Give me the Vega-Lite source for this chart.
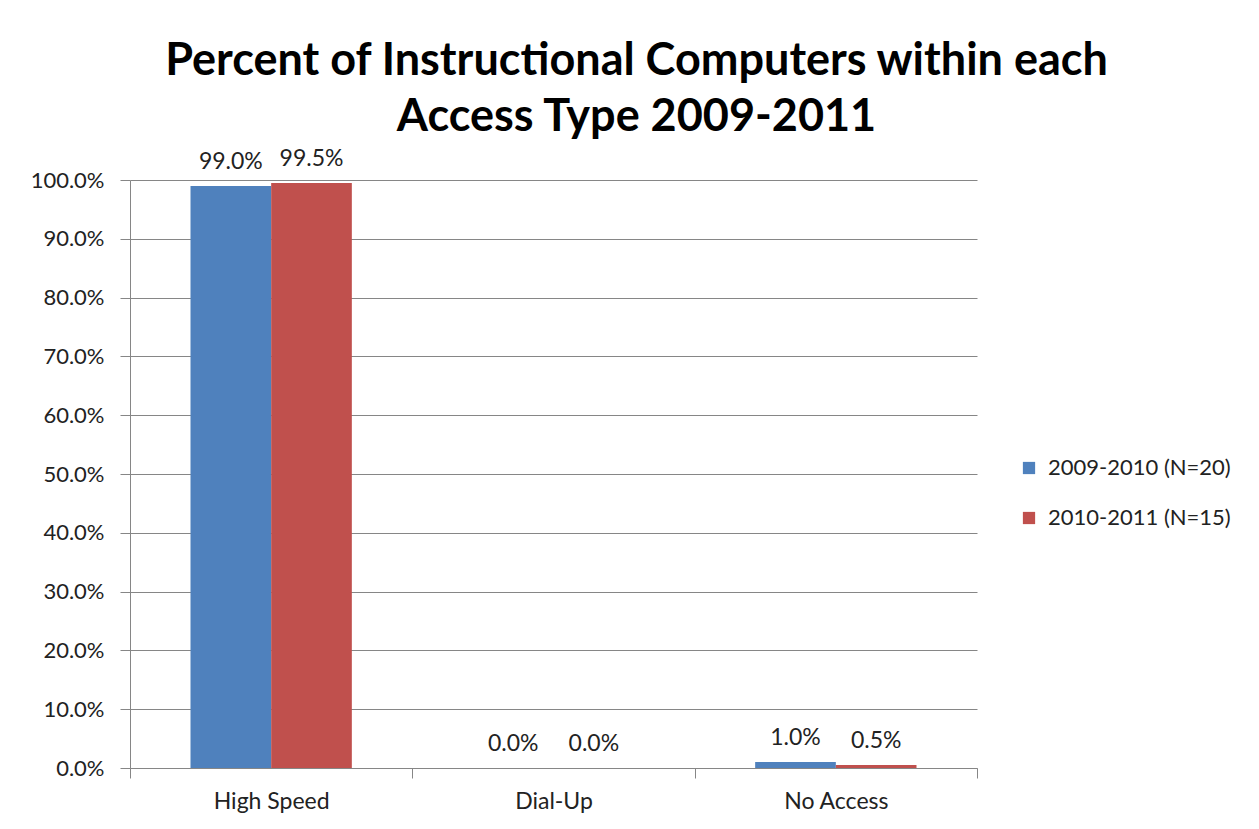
{
  "$schema": "https://vega.github.io/schema/vega-lite/v6.json",
  "autosize": "none",
  "width": 847,
  "height": 588,
  "padding": {"left": 130, "top": 180, "right": 282, "bottom": 61},
  "background": "white",
  "title": {
    "text": ["Percent of Instructional Computers within each", "Access Type 2009-2011"],
    "font": "Lato",
    "fontSize": 45,
    "fontWeight": "bold",
    "color": "#000000",
    "anchor": "middle",
    "frame": "group",
    "dx": 83,
    "offset": 8,
    "lineHeight": 56
  },
  "data": {
    "values": [
      {"access": "High Speed", "year": "2009-2010 (N=20)", "pct": 0.99},
      {"access": "High Speed", "year": "2010-2011 (N=15)", "pct": 0.995},
      {"access": "Dial-Up", "year": "2009-2010 (N=20)", "pct": 0.0},
      {"access": "Dial-Up", "year": "2010-2011 (N=15)", "pct": 0.0},
      {"access": "No Access", "year": "2009-2010 (N=20)", "pct": 0.01},
      {"access": "No Access", "year": "2010-2011 (N=15)", "pct": 0.005}
    ]
  },
  "encoding": {
    "x": {
      "field": "access",
      "type": "nominal",
      "sort": ["High Speed", "Dial-Up", "No Access"],
      "scale": {"paddingInner": 0, "paddingOuter": 0},
      "axis": {
        "title": null,
        "labelAngle": 0,
        "labelFont": "Lato",
        "labelFontSize": 23,
        "labelColor": "#222222",
        "labelPadding": 12,
        "tickBand": "extent",
        "tickSize": 10,
        "tickColor": "#868686",
        "domainColor": "#868686",
        "grid": false
      }
    },
    "xOffset": {
      "field": "year",
      "type": "nominal",
      "scale": {"paddingInner": 0, "paddingOuter": 0.75}
    },
    "y": {
      "field": "pct",
      "type": "quantitative",
      "scale": {"domain": [0, 1]},
      "axis": {
        "title": null,
        "format": ".1%",
        "values": [0, 0.1, 0.2, 0.3, 0.4, 0.5, 0.6, 0.7, 0.8, 0.9, 1.0],
        "labelFont": "Lato",
        "labelFontSize": 22,
        "labelColor": "#222222",
        "labelPadding": 16,
        "tickSize": 10,
        "tickColor": "#868686",
        "domainColor": "#868686",
        "gridColor": "#868686",
        "gridWidth": 1
      }
    }
  },
  "layer": [
    {
      "mark": {"type": "bar"},
      "encoding": {
        "color": {
          "field": "year",
          "type": "nominal",
          "scale": {"range": ["#4F81BD", "#C0504D"]},
          "legend": {
            "title": null,
            "orient": "none",
            "legendX": 888,
            "legendY": 277,
            "symbolType": "square",
            "symbolSize": 150,
            "symbolStrokeWidth": 0,
            "labelFont": "Lato",
            "labelFontSize": 22,
            "labelColor": "#222222",
            "labelLimit": 400,
            "rowPadding": 28,
            "labelOffset": 8
          }
        }
      }
    },
    {
      "mark": {"type": "text", "baseline": "bottom", "dy": -12, "font": "Lato", "fontSize": 23, "color": "#222222"},
      "encoding": {
        "text": {"field": "pct", "type": "quantitative", "format": ".1%"}
      }
    }
  ],
  "config": {
    "view": {"stroke": null}
  }
}
